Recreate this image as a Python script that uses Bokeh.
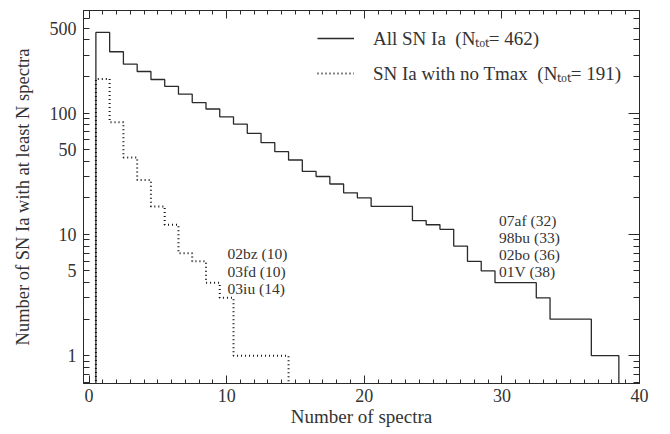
from bokeh.plotting import figure
from bokeh.models import (Range1d, LinearAxis, LogAxis, FixedTicker, SingleIntervalTicker,
                          PrintfTickFormatter, Legend, LegendItem, ColumnDataSource, LabelSet)
from bokeh.embed import file_html
from bokeh.resources import INLINE

# number of SN Ia with at least N spectra
n_all = [1, 2, 3, 4, 5, 6, 7, 8, 9, 10, 11, 12, 13, 14, 15, 16, 17, 18, 19,
         20, 21, 22, 23, 24, 25, 26, 27, 28, 29, 30, 31, 32, 33, 34, 35, 36, 37, 38]
count_all = [462, 320, 253, 220, 189, 166, 143, 122, 108, 93, 81, 68, 57, 48, 41, 33, 30, 26, 22,
             20, 17, 17, 17, 13, 12, 11, 8, 6, 5, 4, 4, 4, 3, 2, 2, 2, 1, 1]

n_notmax = [1, 2, 3, 4, 5, 6, 7, 8, 9, 10, 11, 12, 13, 14]
count_notmax = [191, 84, 43, 28, 17, 12, 7, 6, 4, 3, 1, 1, 1, 1]

# objects with the most spectra
top_all = ["07af (32)", "98bu (33)", "02bo (36)", "01V (38)"]
top_notmax = ["02bz (10)", "03fd (10)", "03iu (14)"]

y_major = [1, 5, 10, 50, 100, 500]
y_minor = [0.6, 0.7, 0.8, 0.9, 2, 3, 4, 6, 7, 8, 9, 20, 30, 40, 60, 70, 80, 90,
           200, 300, 400, 600, 700]

FONT = "Liberation Serif"
INK = "#2a2a2a"
TXT = "#333333"


def step_edges(n, counts, floor=0.1):
    """histogram steps centred on each N, dropping to below the axis at both ends"""
    xs = [n[0] - 0.5] + [v - 0.5 for v in n] + [n[-1] + 0.5]
    ys = [floor] + list(counts) + [floor]
    return xs, ys


p = figure(width=670, height=434, y_axis_type="log",
           x_range=Range1d(-0.4, 40), y_range=Range1d(0.59, 700),
           output_backend="svg", toolbar_location=None, tools="",
           min_border_left=83, min_border_right=31, min_border_top=10, min_border_bottom=51)

xs, ys = step_edges(n_all, count_all)
r_all = p.step(xs, ys, mode="after", line_color=INK, line_width=1.3)
xs, ys = step_edges(n_notmax, count_notmax)
r_nt = p.step(xs, ys, mode="after", line_color="#111111", line_width=2, line_dash="1 3")

# axes, IDL style: ticks inside on all four sides
p.grid.visible = False
p.outline_line_color = INK
p.background_fill_color = "white"

ax = p.xaxis[0]
ax.ticker = SingleIntervalTicker(interval=10, num_minor_ticks=10)
ax.axis_label = "Number of spectra"
ay = p.yaxis[0]
ay.ticker = FixedTicker(ticks=y_major, minor_ticks=y_minor)
ay.formatter = PrintfTickFormatter(format="%d")
ay.axis_label = "Number of SN Ia with at least N spectra"

top = LinearAxis(ticker=SingleIntervalTicker(interval=10, num_minor_ticks=10))
right = LogAxis(ticker=FixedTicker(ticks=[1, 10, 100], minor_ticks=y_minor + [5, 50, 500]))
p.add_layout(top, "above")
p.add_layout(right, "right")

for a in [ax, ay, top, right]:
    a.axis_line_color = INK
    a.major_tick_line_color = INK
    a.minor_tick_line_color = INK
    a.major_tick_out = 0
    a.minor_tick_out = 0
    a.major_label_text_font = FONT
    a.major_label_text_font_size = "18px"
    a.major_label_text_color = TXT
    a.axis_label_text_font = FONT
    a.axis_label_text_font_size = "19px"
    a.axis_label_text_font_style = "normal"
    a.axis_label_text_color = TXT

ay.axis_label_text_font_size = "18.5px"
ax.major_tick_in = 8
ax.minor_tick_in = 4
top.major_tick_in = 8
top.minor_tick_in = 4
ay.major_tick_in = 6
ay.minor_tick_in = 6
right.major_tick_in = 11
right.minor_tick_in = 6
ax.major_label_standoff = 5
ax.axis_label_standoff = 1
ay.major_label_standoff = 7
ay.axis_label_standoff = 14
for a in [top, right]:
    a.major_label_text_font_size = "2px"
    a.major_label_text_color = None
    a.major_label_standoff = 0

legend = Legend(items=[
    LegendItem(label="All SN Ia  (N\u209c\u2092\u209c= %d)" % count_all[0], renderers=[r_all]),
    LegendItem(label="SN Ia with no Tmax  (N\u209c\u2092\u209c= %d)" % count_notmax[0], renderers=[r_nt]),
], location=(234, 297))
legend.glyph_width = 37
legend.glyph_height = 20
legend.label_height = 20
legend.label_standoff = 19
legend.spacing = 9
legend.padding = 0
legend.margin = 0
legend.border_line_alpha = 0
legend.background_fill_alpha = 0
legend.label_text_font = FONT
legend.label_text_font_size = "19px"
legend.label_text_color = TXT
p.add_layout(legend, "center")

src_a = ColumnDataSource(dict(x=[29.8] * len(top_all), y=[12.9] * len(top_all),
                              dy=[0, -16.7, -33.4, -50.1], t=top_all))
src_b = ColumnDataSource(dict(x=[10.07] * len(top_notmax), y=[6.92] * len(top_notmax),
                              dy=[0, -17.5, -35], t=top_notmax))
for s in [src_a, src_b]:
    p.add_layout(LabelSet(x="x", y="y", y_offset="dy", text="t", source=s,
                          text_font=FONT, text_font_size="15.5px", text_color=TXT,
                          text_baseline="middle", text_align="left"))

open("out.html", "w").write(file_html(p, INLINE))
